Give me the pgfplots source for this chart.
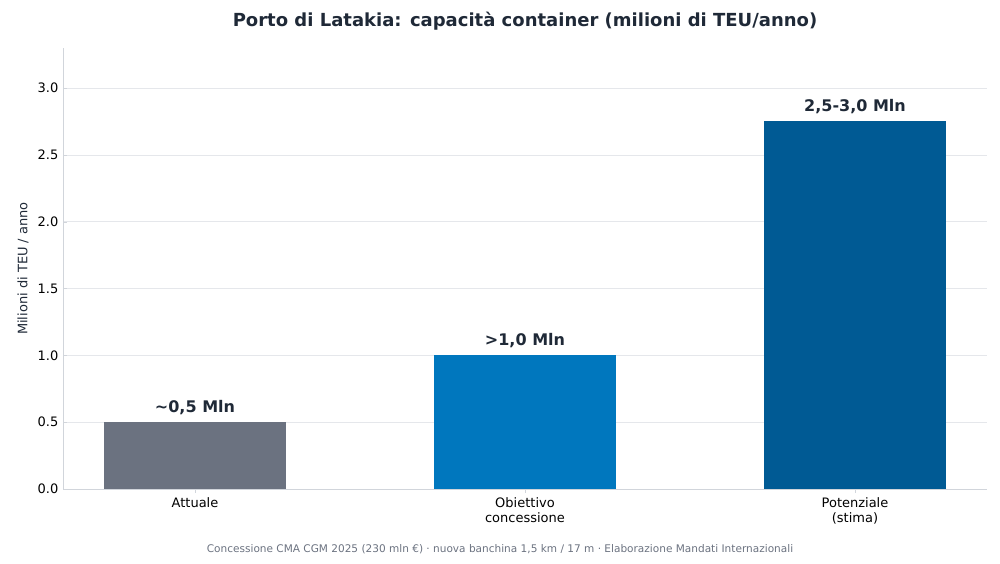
\documentclass[border=0pt]{standalone}
\usepackage{pgfplots}
\pgfplotsset{compat=1.18}
\usepackage{fontspec}
\setmainfont{DejaVu Sans}
\definecolor{cgray}{HTML}{6B7280}
\definecolor{cblue}{HTML}{0077BE}
\definecolor{cdark}{HTML}{005A94}
\definecolor{ctext}{HTML}{1F2937}
\definecolor{cgrid}{HTML}{E5E7EB}
\definecolor{caxis}{HTML}{D1D5DB}
\begin{document}
\begin{tikzpicture}
\useasboundingbox (0,0) rectangle (750pt,423pt);
\begin{axis}[
  at={(47.25pt,56.25pt)}, anchor=south west,
  scale only axis, width=693pt, height=330.75pt,
  xmin=-0.4, xmax=2.4, ymin=0, ymax=3.3,
  xtick={0,1,2}, xticklabels={Attuale,{Obiettivo\\concessione},{Potenziale\\(stima)}},
  xticklabel style={align=center, font=\fontsize{9.75}{11}\selectfont, text=black},
  ytick={0,0.5,...,3.0},
  yticklabel style={font=\fontsize{9.75}{11}\selectfont},
  /pgf/number format/.cd, fixed, fixed zerofill, precision=1, assume math mode=true, /pgfplots/.cd,
  ymajorgrids, grid style={cgrid, line width=0.6pt},
  axis x line*=bottom, axis y line*=left,
  axis line style={caxis}, tick style={caxis},
  major tick length=3pt,
  ylabel={Milioni di TEU / anno}, ylabel style={font=\fontsize{9.75}{11}\selectfont, text=ctext},
  ybar, bar width=0.55, bar shift=0pt,
  nodes near coords, point meta=explicit symbolic,
  nodes near coords style={font=\bfseries\fontsize{12}{14}\selectfont, text=ctext, yshift=2pt},
]
\addplot[fill=cgray, draw=none] coordinates {(0,0.5) [\textasciitilde0,5 Mln]};
\addplot[fill=cblue, draw=none] coordinates {(1,1.0) [>1,0 Mln]};
\addplot[fill=cdark, draw=none] coordinates {(2,2.75) [2,5-3,0 Mln]};
\end{axis}
\node[font=\bfseries\fontsize{13.5}{16}\selectfont, text=ctext] at (393.75pt,407.25pt) {Porto di Latakia: capacità container (milioni di TEU/anno)};
\node[font=\fontsize{7.9}{9}\selectfont, text=cgray] at (375pt,11.25pt) {Concessione CMA CGM 2025 (230 mln €) · nuova banchina 1,5 km / 17 m · Elaborazione Mandati Internazionali};
\end{tikzpicture}
\end{document}
